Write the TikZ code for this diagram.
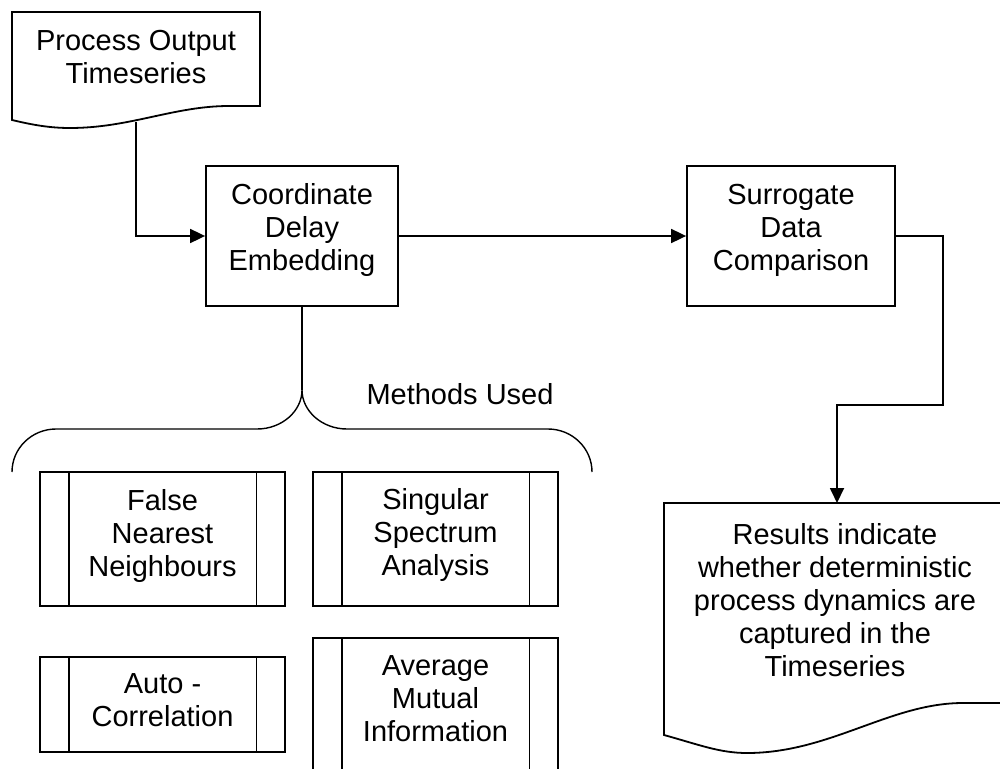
\documentclass[tikz,border=0pt]{standalone}
\usepackage{fontspec}
\setmainfont{Liberation Sans}
\usetikzlibrary{arrows.meta}
\begin{document}
\begin{tikzpicture}[x=1pt,y=-1pt,
  outline/.style={line width=1.8pt, line join=miter},
  proc/.style={draw, line width=1.8pt, rectangle, inner sep=0pt},
  predef/.style={proc, minimum width=245pt},
  lbl/.style={align=center, inner sep=0pt, font=\fontsize{29}{33}\selectfont},
  conn/.style={line width=1.8pt},
  arr/.style={conn, -{Triangle[length=15pt,width=14pt]}},
  brace/.style={line width=1.4pt},
]
\useasboundingbox (0,0) rectangle (1000,768);
\clip (0,0) rectangle (1000,768);

% input document
\draw[outline] (12,12) -- (260,12) -- (260,106) -- (229,106)
  .. controls (174,106) and (130,128) .. (70,128)
  .. controls (50,128) and (33,125) .. (12,120) -- cycle;
\node[lbl] (src) at (136,57) {Process Output\\Timeseries};
\coordinate (srcout) at (136,122);

% processing steps
\node[proc, minimum width=192pt, minimum height=140pt] (coord) at (302,236) {};
\node[lbl] (coordtxt) at (302,230) {Coordinate\\Delay\\Embedding};
\node[proc, minimum width=208pt, minimum height=140pt] (surr) at (791,236) {};
\node[lbl] (surrtxt) at (791,230) {Surrogate\\Data\\Comparison};

\draw[arr] (srcout) |- (coord.west);
\draw[arr] (coord.east) -- (surr.west);

% result document
\draw[outline] (1006,503) -- (664,503) -- (664,735)
  .. controls (700,745) and (720,753) .. (747,753)
  .. controls (830,753) and (890,703) .. (963,703) -- (1006,703) -- cycle;
\node[lbl] (res) at (835,600) {Results indicate\\whether deterministic\\process dynamics are\\captured in the\\Timeseries};
\coordinate (resin) at (837,503);
\coordinate (turnA) at (943,405);
\coordinate (turnB) at (837,405);
\draw[arr] (surr.east) -| (turnA) -- (turnB) -- (resin);

% brace grouping the embedding methods
\coordinate (fork) at (302,390);
\draw[brace] (coord.south) -- (fork);
\draw[brace] (12,472) .. controls (12,448) and (32,429) .. (56,429) -- (257,429)
  .. controls (282,429) and (302,411) .. (fork)
  .. controls (302,411) and (322,429) .. (347,429) -- (548,429)
  .. controls (572,429) and (592,448) .. (592,472);
\node[lbl] (methods) at (460,394) {Methods Used};

% predefined-process boxes
\node[predef, minimum height=134pt] (fnn) at (162.5,539) {};
\node[predef, minimum height=134pt] (ssa) at (435.5,539) {};
\node[predef, minimum height=95pt] (ac) at (162.5,704.5) {};
\node[predef, minimum height=132pt] (ami) at (435.5,704) {};
\foreach \b in {fnn,ssa,ac,ami} {
  \draw[outline] ([xshift=29.5pt]\b.north west) -- ([xshift=29.5pt]\b.south west);
  \draw[outline] ([xshift=-29.5pt]\b.north east) -- ([xshift=-29.5pt]\b.south east);
}
\node[lbl] (fnntxt) at (162.5,536) {False\\Nearest\\Neighbours};
\node[lbl] (ssatxt) at (435.5,535) {Singular\\Spectrum\\Analysis};
\node[lbl] (actxt) at (162.5,700) {Auto -\\Correlation};
\node[lbl] (amitxt) at (435.5,699) {Average\\Mutual\\Information};
\end{tikzpicture}
\end{document}
